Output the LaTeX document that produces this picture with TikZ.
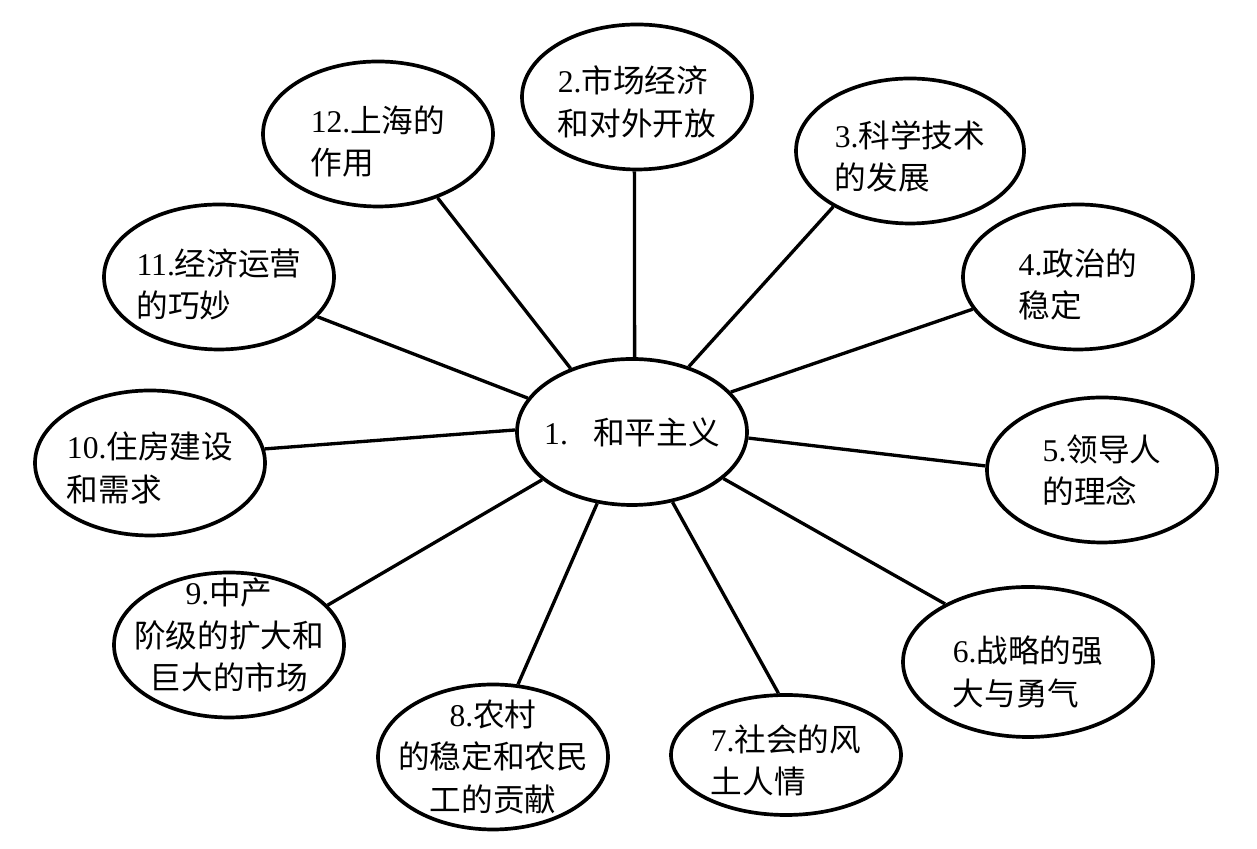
\documentclass[tikz,border=0pt]{standalone}
\usepackage{fontspec}
\setmainfont{Liberation Serif}
\newfontfamily\zh{Noto Sans CJK SC}
\usepackage{tikz}
\usetikzlibrary{shapes.geometric}

\begin{document}
\begin{tikzpicture}
[bubble/.style = {draw, ellipse, line width=2.1pt, minimum width=4.6cm,
minimum height=2.9cm, inner sep=0pt},
txt/.style = {align=left, font=\fontsize{18}{24}\selectfont},
link/.style = {line width=1.9pt}]

\useasboundingbox (0,0) rectangle (25.14,16.98);

\node [bubble, minimum height=2.92cm] (peace) at (12.64,8.34) {};
\node [bubble] (market) at (12.74,15.04) {};
\node [bubble, minimum width=4.56cm] (science) at (18.20,13.96) {};
\node [bubble] (politics) at (21.56,11.44) {};
\node [bubble] (leader) at (22.04,7.58) {};
\node [bubble, minimum width=5cm, minimum height=3cm] (strategy) at (20.56,3.74) {};
\node [bubble, minimum height=2.4cm] (society) at (15.72,1.88) {};
\node [bubble] (rural) at (9.86,1.84) {};
\node [bubble] (middle) at (4.58,4.08) {};
\node [bubble] (housing) at (3.00,7.72) {};
\node [bubble] (economy) at (4.38,11.44) {};
\node [bubble] (shanghai) at (7.56,14.30) {};

\node [txt] (peace_t) at (peace) {1.\hspace{0.8em}{\zh 和平主义}};
\node [txt, yshift=-1mm] (market_t) at (market) {2.{\zh 市场经济}\\{\zh 和对外开放}};
\node [txt, yshift=-1mm] (science_t) at (science) {3.{\zh 科学技术}\\{\zh 的发展}};
\node [txt, yshift=-1.5mm] (politics_t) at (politics) {4.{\zh 政治的}\\{\zh 稳定}};
\node [txt] (leader_t) at (leader) {5.{\zh 领导人}\\{\zh 的理念}};
\node [txt, yshift=-2mm] (strategy_t) at (strategy) {6.{\zh 战略的强}\\{\zh 大与勇气}};
\node [txt, yshift=-1mm] (society_t) at (society) {7.{\zh 社会的风}\\{\zh 土人情}};
\node [txt, align=center] (rural_t) at (rural) {8.{\zh 农村}\\{\zh 的稳定和农民}\\{\zh 工的贡献}};
\node [txt, align=center, yshift=2mm] (middle_t) at (middle) {9.{\zh 中产}\\{\zh 阶级的扩大和}\\{\zh 巨大的市场}};
\node [txt, yshift=-1mm] (housing_t) at (housing) {10.{\zh 住房建设}\\{\zh 和需求}};
\node [txt, yshift=-1.5mm] (economy_t) at (economy) {11.{\zh 经济运营}\\{\zh 的巧妙}};
\node [txt, yshift=-1.5mm] (shanghai_t) at (shanghai) {12.{\zh 上海的}\\{\zh 作用}};

\draw [link] (peace.88) -- (market.-92);
\draw [link] (peace.49) -- (science.-144);
\draw [link] (peace.22) -- (politics.-163);
\draw [link] (peace.-3) -- (leader.178);
\draw [link] (peace.-27) -- (strategy.145);
\draw [link] (peace.-60) -- (society.97);
\draw [link] (peace.-116) -- (rural.71);
\draw [link] (peace.-152) -- (middle.22);
\draw [link] (peace.179) -- (housing.7);
\draw [link] (peace.162) -- (economy.-22);
\draw [link] (peace.134) -- (shanghai.-47);

\end{tikzpicture}
\end{document}
